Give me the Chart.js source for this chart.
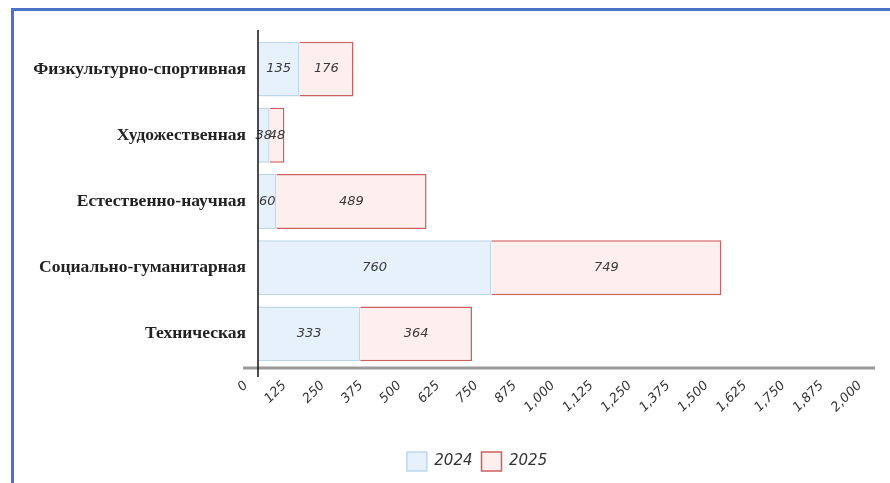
<!DOCTYPE html>
<html>
<head>
<meta charset="utf-8">
<script src="https://cdn.jsdelivr.net/npm/chart.js@4"></script>
<style>
  html, body { margin: 0; padding: 0; background: #fff; }
  #wrap { position: relative; width: 890px; height: 483px; overflow: hidden; }
  #frame { position: absolute; left: 11px; top: 8px; width: 900px; height: 500px;
           border-top: 3px solid #4a74c9; border-left: 3px solid #4a74c9; box-sizing: border-box; }
  canvas { position: absolute; left: 0; top: 0; }
</style>
</head>
<body>
<div id="wrap">
  <div id="frame"></div>
  <canvas id="c" width="890" height="483"></canvas>
</div>
<script>
const categories = ["Физкультурно-спортивная", "Художественная", "Естественно-научная", "Социально-гуманитарная", "Техническая"];
const seriesNames = ["2024", "2025"];
const values2024 = [135, 38, 60, 760, 333];
const values2025 = [176, 48, 489, 749, 364];
const xMin = 0, xMax = 2000, xStep = 125;

const labelFont = 'italic 13px "DejaVu Sans"';

const dataLabels = {
  id: 'dataLabels',
  afterDatasetsDraw(chart) {
    const ctx = chart.ctx;
    ctx.save();
    ctx.font = labelFont;
    ctx.fillStyle = '#3a3a3a';
    ctx.textAlign = 'center';
    ctx.textBaseline = 'middle';
    chart.data.datasets.forEach((ds, i) => {
      const meta = chart.getDatasetMeta(i);
      meta.data.forEach((el, j) => {
        const cx = (el.x + el.base) / 2;
        ctx.fillText(String(ds.data[j]), cx, el.y);
      });
    });
    ctx.restore();
  }
};

const axisLines = {
  id: 'axisLines',
  afterDraw(chart) {
    const a = chart.chartArea, ctx = chart.ctx;
    ctx.save();
    ctx.strokeStyle = '#9a9a9a';
    ctx.lineWidth = 3;
    ctx.beginPath();
    ctx.moveTo(a.left - 15, a.bottom + 1);
    ctx.lineTo(a.right + 3, a.bottom + 1);
    ctx.stroke();
    ctx.strokeStyle = '#111';
    ctx.lineWidth = 1.5;
    ctx.beginPath();
    ctx.moveTo(a.left, a.top - 6);
    ctx.lineTo(a.left, a.bottom + 10);
    ctx.stroke();
    ctx.restore();
  }
};

const legendShift = {
  id: 'legendShift',
  afterLayout(chart) {
    const lg = chart.legend;
    if (lg) { lg.left += 41; lg.right += 41; }
  }
};

new Chart(document.getElementById('c'), {
  type: 'bar',
  data: {
    labels: categories,
    datasets: [
      { label: seriesNames[0], data: values2024,
        backgroundColor: 'rgba(230,241,251,1)', borderColor: 'rgba(190,215,236,1)', borderWidth: 1.5 },
      { label: seriesNames[1], data: values2025,
        backgroundColor: 'rgba(253,239,238,1)', borderColor: 'rgba(205,95,95,1)', borderWidth: 1.5 }
    ]
  },
  options: {
    indexAxis: 'y',
    responsive: false,
    animation: false,
    layout: { padding: { top: 36, right: 18, bottom: 2, left: 0 } },
    datasets: { bar: { categoryPercentage: 1, barPercentage: 0.83 } },
    scales: {
      x: {
        stacked: true, min: xMin, max: xMax,
        ticks: { stepSize: xStep, minRotation: 45, maxRotation: 45, color: '#333', labelOffset: -12,
                 font: { family: '"DejaVu Sans"', style: 'italic', size: 13 } },
        grid: { display: false },
        border: { display: false },
        afterFit(s) { s.height = 76; }
      },
      y: {
        stacked: true,
        ticks: { color: '#222', padding: 4, font: { family: '"Liberation Serif"', size: 17.5, weight: 'bold' } },
        grid: { display: false },
        border: { display: false },
        afterFit(s) { s.width = 258; }
      }
    },
    plugins: {
      legend: {
        position: 'bottom',
        labels: { boxWidth: 20, boxHeight: 19, padding: 9, color: '#333',
                  font: { family: '"DejaVu Sans"', style: 'italic', size: 15 } }
      },
      tooltip: { enabled: false }
    }
  },
  plugins: [dataLabels, axisLines, legendShift]
});
</script>
</body>
</html>
